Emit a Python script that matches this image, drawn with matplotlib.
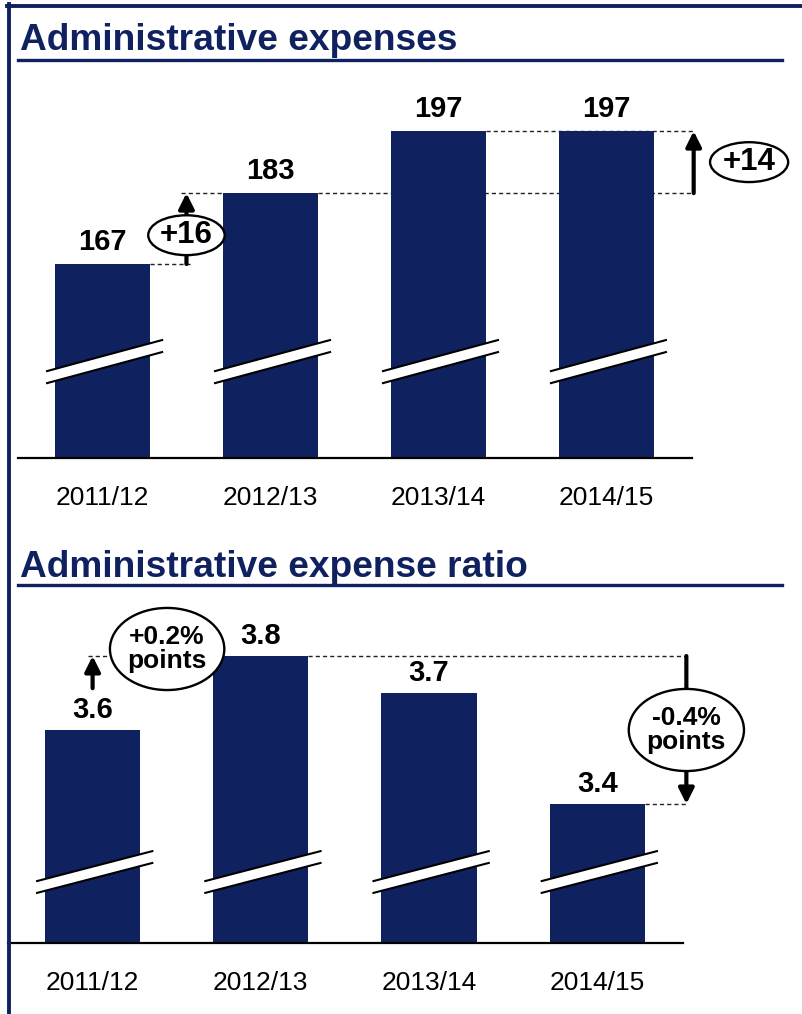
import matplotlib
matplotlib.use("Agg")
import matplotlib.pyplot as plt
from matplotlib.patches import Ellipse, Polygon
from matplotlib.lines import Line2D
from matplotlib.transforms import blended_transform_factory

plt.rcParams['font.family'] = ['Liberation Sans', 'DejaVu Sans']

# data
years = ["2011/12", "2012/13", "2013/14", "2014/15"]
expenses = [167, 183, 197, 197]
ratio = [3.6, 3.8, 3.7, 3.4]
exp_labels = ["167", "183", "197", "197"]
ratio_labels = ["3.6", "3.8", "3.7", "3.4"]

navy = "#10215f"
W, H = 803, 1014

fig = plt.figure(figsize=(W / 100, H / 100), dpi=100)


def rect(left, top, right, bottom):
    return [left / W, 1 - bottom / H, (right - left) / W, (bottom - top) / H]


def fline(x0, y0, x1, y1, **kw):
    fig.add_artist(Line2D([x0 / W, x1 / W], [1 - y0 / H, 1 - y1 / H],
                          transform=fig.transFigure, **kw))


# frame lines and titles
fline(7, 5.5, 803, 5.5, color=navy, lw=2.8)
fline(9, 4, 9, 1014, color=navy, lw=2.8)
fline(18, 60, 782, 60, color=navy, lw=2.4)
fline(18, 585, 782, 585, color=navy, lw=2.4)
fig.text(20 / W, 1 - 50 / H, "Administrative expenses", color=navy,
         fontsize=26.7, fontweight='bold', va='baseline', ha='left')
fig.text(20 / W, 1 - 577 / H, "Administrative expense ratio", color=navy,
         fontsize=26.7, fontweight='bold', va='baseline', ha='left')

ax1 = fig.add_axes(rect(18, 70, 692, 458))
ax2 = fig.add_axes(rect(8, 595, 683, 943))

x = list(range(len(years)))
bw = 0.565


def setup(ax, vals, labels, ylim, breaks, fmt_off):
    ax.bar(x, vals, width=bw, color=navy, zorder=3)
    ax.set_xlim(-0.503, 3.51)
    ax.set_ylim(*ylim)
    for s in ['top', 'right', 'left']:
        ax.spines[s].set_visible(False)
    ax.spines['bottom'].set_linewidth(1.6)
    ax.spines['bottom'].set_zorder(5)
    ax.set_xticks([])
    ax.set_yticks([])
    tr = blended_transform_factory(ax.transData, ax.transAxes)
    for i, yr in enumerate(years):
        ax.annotate(yr, (i, 0), xycoords=tr, xytext=(0, -29), textcoords='offset points',
                    ha='center', va='center', fontsize=19)
        ax.annotate(labels[i], (i, vals[i]), xytext=(0, fmt_off), textcoords='offset points',
                    ha='center', va='center', fontsize=21, fontweight='bold')
        l0, l1, r0, r1 = breaks
        xl, xr = i - 0.33, i + 0.355
        ax.add_patch(Polygon([(xl, l0), (xr, r0), (xr, r1), (xl, l1)], closed=True,
                             transform=tr, facecolor='white', edgecolor='none',
                             zorder=4, clip_on=False))
        ax.plot([xl, xr], [l0, r0], color='black', lw=1.5, transform=tr, zorder=4, clip_on=False)
        ax.plot([xl, xr], [l1, r1], color='black', lw=1.5, transform=tr, zorder=4, clip_on=False)


setup(ax1, expenses, exp_labels, (123.2, 210.8), (0.193, 0.224, 0.273, 0.304), 16)
setup(ax2, ratio, ratio_labels, (3.024, 3.965), (0.144, 0.178, 0.230, 0.264), 14.5)

dash = dict(color='#222222', lw=1, dashes=(3, 2.2), zorder=2, clip_on=False)
arrow = dict(arrowstyle='-|>', lw=3, color='black', mutation_scale=23,
             shrinkA=0, shrinkB=0)


def bubble(ax, cx, cy, w, h, text, fs):
    ax.add_patch(Ellipse((cx, cy), w, h, facecolor='white', edgecolor='black',
                         lw=1.7, zorder=7, clip_on=False))
    ax.text(cx, cy, text, ha='center', va='center', fontsize=fs, fontweight='bold',
            zorder=8, linespacing=1.0)


# top chart annotations
h = bw / 2
ax1.plot([0 + h, 0.52], [expenses[0]] * 2, **dash)
ax1.plot([0.47, 1 - h], [expenses[1]] * 2, **dash)
ax1.plot([1 + h, 3.52], [expenses[1]] * 2, **dash)
ax1.plot([2 + h, 3.52], [expenses[2]] * 2, **dash)
ax1.annotate('', xy=(0.5, expenses[1]), xytext=(0.5, expenses[0]), arrowprops=arrow,
             annotation_clip=False, zorder=6)
ax1.annotate('', xy=(3.52, expenses[3]), xytext=(3.52, expenses[1]), arrowprops=arrow,
             annotation_clip=False, zorder=6)
bubble(ax1, 0.5, (expenses[0] + expenses[1]) / 2 - 1.5, 0.455, 9.0, "+16", 22.5)
bubble(ax1, 3.85, (expenses[1] + expenses[3]) / 2, 0.465, 9.0, "+14", 22.5)

# bottom chart annotations
ax2.plot([-0.03, 1 - h], [ratio[1]] * 2, **dash)
ax2.plot([1 + h, 3.53], [ratio[1]] * 2, **dash)
ax2.plot([3 + h, 3.53], [ratio[3]] * 2, **dash)
ax2.annotate('', xy=(0.0, ratio[1]), xytext=(0.0, 3.713), arrowprops=arrow,
             annotation_clip=False, zorder=6)
ax2.annotate('', xy=(3.53, ratio[3]), xytext=(3.53, ratio[1]), arrowprops=arrow,
             annotation_clip=False, zorder=6)
bubble(ax2, 0.443, 3.819, 0.68, 0.222, "+0.2%\npoints", 19)
bubble(ax2, 3.53, (ratio[1] + ratio[3]) / 2, 0.685, 0.222, "-0.4%\npoints", 19)

fig.savefig("out.png", dpi=100)
